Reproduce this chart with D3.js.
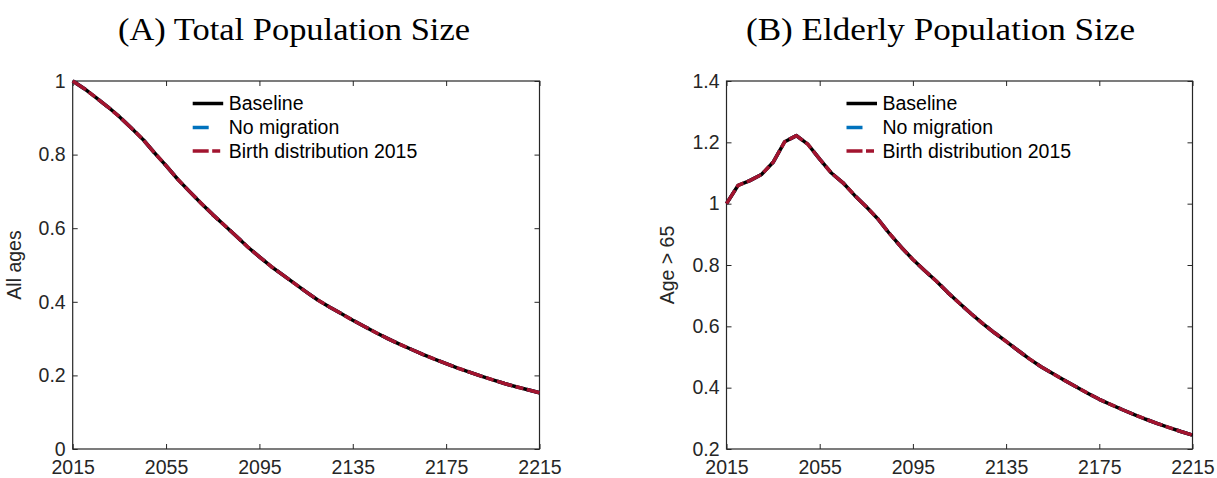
<!DOCTYPE html>
<html>
<head>
<meta charset="utf-8">
<script src="https://cdn.jsdelivr.net/npm/d3@7"></script>
<style>
  body { margin: 0; background: #ffffff; }
  svg { display: block; }
</style>
</head>
<body>
<svg id="chart" width="1217" height="478"></svg>
<script>
// Projection years (5-year steps)
const years = [2015, 2020, 2025, 2030, 2035, 2040, 2045, 2050, 2055, 2060,
               2065, 2070, 2075, 2080, 2085, 2090, 2095, 2100, 2105, 2110,
               2115, 2120, 2125, 2130, 2135, 2140, 2145, 2150, 2155, 2160,
               2165, 2170, 2175, 2180, 2185, 2190, 2195, 2200, 2205, 2210, 2215];

// (A) Total population, relative to 2015
const totalBaseline = [1.000, 0.979, 0.955, 0.930, 0.903, 0.873, 0.842, 0.805, 0.770, 0.733,
                       0.700, 0.668, 0.637, 0.608, 0.579, 0.549, 0.522, 0.496, 0.473, 0.450,
                       0.427, 0.405, 0.386, 0.368, 0.350, 0.333, 0.316, 0.300, 0.285, 0.271,
                       0.257, 0.244, 0.232, 0.220, 0.209, 0.198, 0.188, 0.178, 0.169, 0.161, 0.153];
const totalNoMigration = [1.000, 0.979, 0.955, 0.930, 0.903, 0.873, 0.842, 0.805, 0.770, 0.733,
                          0.700, 0.668, 0.637, 0.608, 0.579, 0.549, 0.522, 0.496, 0.473, 0.450,
                          0.427, 0.405, 0.386, 0.368, 0.350, 0.333, 0.316, 0.300, 0.285, 0.271,
                          0.257, 0.244, 0.232, 0.220, 0.209, 0.198, 0.188, 0.178, 0.169, 0.161, 0.153];
const totalBirth2015 = [1.000, 0.979, 0.955, 0.930, 0.903, 0.873, 0.842, 0.805, 0.770, 0.733,
                        0.700, 0.668, 0.637, 0.608, 0.579, 0.549, 0.522, 0.496, 0.473, 0.450,
                        0.427, 0.405, 0.386, 0.368, 0.350, 0.333, 0.316, 0.300, 0.285, 0.271,
                        0.257, 0.244, 0.232, 0.220, 0.209, 0.198, 0.188, 0.178, 0.169, 0.161, 0.153];

// (B) Population aged over 65, relative to 2015
const elderlyBaseline = [1.000, 1.060, 1.075, 1.095, 1.135, 1.202, 1.222, 1.193, 1.145, 1.100,
                         1.068, 1.027, 0.990, 0.950, 0.902, 0.858, 0.818, 0.782, 0.748, 0.710,
                         0.675, 0.641, 0.609, 0.579, 0.551, 0.522, 0.494, 0.468, 0.446, 0.424,
                         0.403, 0.382, 0.362, 0.345, 0.328, 0.312, 0.297, 0.283, 0.270, 0.257, 0.245];
const elderlyNoMigration = [1.000, 1.060, 1.075, 1.095, 1.135, 1.202, 1.222, 1.193, 1.145, 1.100,
                            1.068, 1.027, 0.990, 0.950, 0.902, 0.858, 0.818, 0.782, 0.748, 0.710,
                            0.675, 0.641, 0.609, 0.579, 0.551, 0.522, 0.494, 0.468, 0.446, 0.424,
                            0.403, 0.382, 0.362, 0.345, 0.328, 0.312, 0.297, 0.283, 0.270, 0.257, 0.245];
const elderlyBirth2015 = [1.000, 1.060, 1.075, 1.095, 1.135, 1.202, 1.222, 1.193, 1.145, 1.100,
                          1.068, 1.027, 0.990, 0.950, 0.902, 0.858, 0.818, 0.782, 0.748, 0.710,
                          0.675, 0.641, 0.609, 0.579, 0.551, 0.522, 0.494, 0.468, 0.446, 0.424,
                          0.403, 0.382, 0.362, 0.345, 0.328, 0.312, 0.297, 0.283, 0.270, 0.257, 0.245];

const seriesNames = ["Baseline", "No migration", "Birth distribution 2015"];
const xTicks = [2015, 2055, 2095, 2135, 2175, 2215];
const totalTicks = [0, 0.2, 0.4, 0.6, 0.8, 1];
const elderlyTicks = [0.2, 0.4, 0.6, 0.8, 1, 1.2, 1.4];

// Styles in legend order; z gives drawing order (blue under black, dashed red on top)
const styles = [
  { color: "#000000", dash: null, z: 1 },
  { color: "#0072BD", dash: "16,15", z: 0 },
  { color: "#A2142F", dash: "16,3.5,8,3.5", z: 2 }
];

const svg = d3.select("#chart");
const axisColor = "#262626";
const sansFont = "'Liberation Sans', Arial, Helvetica, sans-serif";
const serifFont = "'Liberation Serif', 'Times New Roman', serif";
const labelSize = 19.5;

function fmt(v) {
  return d3.format("~g")(+v.toFixed(1));
}

function drawPanel(cfg) {
  const x = d3.scaleLinear().domain([2015, 2215]).range([cfg.left, cfg.right]);
  const y = d3.scaleLinear().domain(cfg.yDomain).range([cfg.bottom, cfg.top]);
  const g = svg.append("g");

  // Title
  g.append("text")
    .attr("x", (cfg.titleStart + cfg.titleEnd) / 2)
    .attr("y", 40)
    .attr("text-anchor", "middle")
    .attr("font-family", serifFont)
    .attr("font-size", 31)
    .attr("fill", "#000")
    .attr("textLength", cfg.titleEnd - cfg.titleStart)
    .attr("lengthAdjust", "spacingAndGlyphs")
    .text(cfg.title);

  // Axes with inward ticks on all four sides
  const styleAxis = sel => {
    sel.select(".domain").remove();
    sel.selectAll("line").attr("stroke", axisColor).attr("stroke-width", 1);
    sel.selectAll("text")
      .attr("fill", axisColor)
      .attr("font-family", sansFont)
      .attr("font-size", labelSize);
  };

  g.append("g")
    .attr("transform", `translate(0,${cfg.bottom})`)
    .call(d3.axisBottom(x).tickValues(xTicks).tickSize(-5).tickPadding(11).tickFormat(d3.format("d")))
    .call(styleAxis);
  g.append("g")
    .attr("transform", `translate(0,${cfg.top})`)
    .call(d3.axisTop(x).tickValues(xTicks).tickSize(-5).tickFormat(""))
    .call(styleAxis);
  g.append("g")
    .attr("transform", `translate(${cfg.left},0)`)
    .call(d3.axisLeft(y).tickValues(cfg.yTicks).tickSize(-5).tickPadding(7).tickFormat(fmt))
    .call(styleAxis);
  g.append("g")
    .attr("transform", `translate(${cfg.right},0)`)
    .call(d3.axisRight(y).tickValues(cfg.yTicks).tickSize(-5).tickFormat(""))
    .call(styleAxis);

  // Box
  g.append("rect")
    .attr("x", cfg.left).attr("y", cfg.top)
    .attr("width", cfg.right - cfg.left).attr("height", cfg.bottom - cfg.top)
    .attr("fill", "none").attr("stroke", axisColor).attr("stroke-width", 1.2);

  // Y label
  g.append("text")
    .attr("transform", `translate(${cfg.yLabelX},${(cfg.top + cfg.bottom) / 2}) rotate(-90)`)
    .attr("text-anchor", "middle")
    .attr("font-family", sansFont)
    .attr("font-size", labelSize)
    .attr("fill", axisColor)
    .text(cfg.yLabel);

  // Series lines, drawn in z order
  const line = d3.line().x((d, i) => x(years[i])).y(d => y(d));
  const order = d3.range(cfg.series.length).sort((a, b) => styles[a].z - styles[b].z);
  order.forEach(k => {
    const st = styles[k];
    g.append("path")
      .datum(cfg.series[k])
      .attr("d", line)
      .attr("fill", "none")
      .attr("stroke", st.color)
      .attr("stroke-width", 3.5)
      .attr("stroke-linejoin", "round")
      .attr("stroke-dasharray", st.dash);
  });

  // Legend
  const legendRows = [22.5, 46.5, 70];
  const lg = g.append("g");
  seriesNames.forEach((name, k) => {
    const st = styles[k];
    const yy = cfg.top + legendRows[k];
    lg.append("line")
      .attr("x1", cfg.left + 120).attr("x2", cfg.left + 150.5)
      .attr("y1", yy).attr("y2", yy)
      .attr("stroke", st.color)
      .attr("stroke-width", 3.5)
      .attr("stroke-dasharray", st.dash);
    lg.append("text")
      .attr("x", cfg.left + 156)
      .attr("y", yy)
      .attr("dy", "0.35em")
      .attr("font-family", sansFont)
      .attr("font-size", labelSize)
      .attr("fill", "#000")
      .text(name);
  });
}

drawPanel({
  title: "(A) Total Population Size",
  titleStart: 118, titleEnd: 470,
  left: 72.7, right: 539.5, top: 81, bottom: 449,
  yDomain: [0, 1], yTicks: totalTicks,
  yLabel: "All ages", yLabelX: 21,
  series: [totalBaseline, totalNoMigration, totalBirth2015]
});

drawPanel({
  title: "(B) Elderly Population Size",
  titleStart: 746, titleEnd: 1135,
  left: 726.5, right: 1192.5, top: 81, bottom: 449,
  yDomain: [0.2, 1.4], yTicks: elderlyTicks,
  yLabel: "Age > 65", yLabelX: 674,
  series: [elderlyBaseline, elderlyNoMigration, elderlyBirth2015]
});
</script>
</body>
</html>
